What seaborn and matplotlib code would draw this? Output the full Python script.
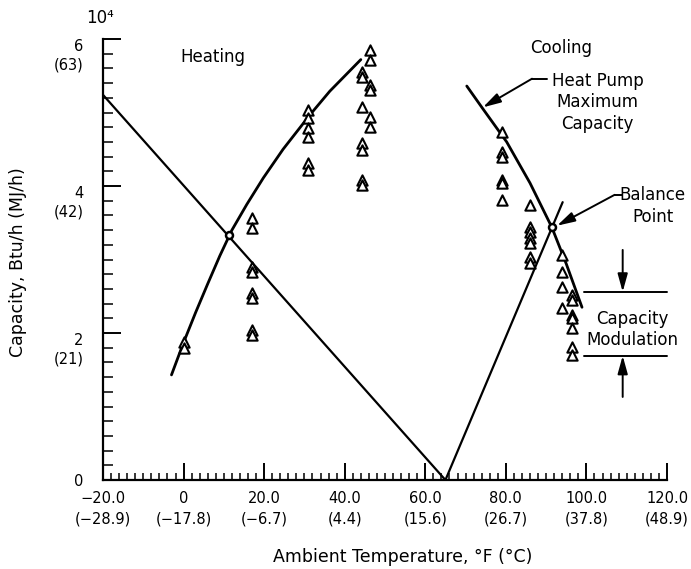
import numpy as np
import matplotlib
matplotlib.use("Agg")
import matplotlib.pyplot as plt
import seaborn as sns

# measured heat pump capacity points (x = ambient temp F, y = capacity in 10^4 Btu/h)
heat_x = [0, 0,
          17, 17, 17, 17, 17, 17, 17, 17,
          31, 31, 31, 31, 31, 31,
          44.3, 44.3, 44.3, 44.3, 44.3, 44.3, 44.3,
          46.3, 46.3, 46.3, 46.3, 46.3, 46.3]
heat_y = [1.88, 1.80,
          3.56, 3.43, 2.90, 2.83, 2.54, 2.48, 2.04, 1.97,
          5.03, 4.93, 4.79, 4.67, 4.31, 4.22,
          5.55, 5.48, 5.07, 4.58, 4.49, 4.08, 4.01,
          5.85, 5.71, 5.37, 5.31, 4.94, 4.80]
cool_x = [79, 79, 79, 79, 79, 79,
          86, 86, 86, 86, 86, 86, 86,
          94, 94, 94, 94,
          96.4, 96.4, 96.4, 96.4, 96.4, 96.4, 96.4]
cool_y = [4.73, 4.46, 4.40, 4.08, 4.04, 3.81,
          3.74, 3.44, 3.37, 3.29, 3.22, 3.03, 2.95,
          3.06, 2.83, 2.63, 2.34,
          2.52, 2.45, 2.24, 2.20, 2.07, 1.81, 1.70]

# building load lines
heat_load_x = [-20, 65]
heat_load_y = [5.24, 0]
cool_load_x = [65, 94.1]
cool_load_y = [0, 3.78]

# heat pump maximum capacity curves
heat_cap_x = [-3, 0, 3, 6, 9, 12, 15.7, 19.8, 24.7, 31.4, 36.3, 44]
heat_cap_y = [1.43, 1.87, 2.28, 2.67, 3.05, 3.40, 3.75, 4.11, 4.50, 4.97, 5.29, 5.72]
cool_cap_x = [70.3, 74.3, 80.2, 86, 91.4, 95, 98.9]
cool_cap_y = [5.36, 5.05, 4.60, 4.04, 3.44, 2.94, 2.35]

balance_x = [11.3, 91.4]
balance_y = [3.33, 3.44]

xticks = [-20, 0, 20, 40, 60, 80, 100, 120]
xticklabels = ["\u221220.0\n(\u221228.9)", "0\n(\u221217.8)", "20.0\n(\u22126.7)", "40.0\n(4.4)",
               "60.0\n(15.6)", "80.0\n(26.7)", "100.0\n(37.8)", "120.0\n(48.9)"]
yticks = [0, 2, 4, 6]
yticklabels = ["0", "2\n(21)", "4\n(42)", "6\n(63)"]

sns.set_theme(style="ticks")
plt.rcParams['font.family'] = ['DejaVu Sans']
plt.rcParams['text.color'] = 'black'
plt.rcParams['axes.labelcolor'] = 'black'
plt.rcParams['xtick.color'] = 'black'
plt.rcParams['ytick.color'] = 'black'

fig = plt.figure(figsize=(6.91, 5.69), dpi=100)
ax = fig.add_axes([103 / 691, 89 / 569, 564 / 691, 441 / 569])

lw = 1.6
sns.lineplot(x=heat_load_x, y=heat_load_y, ax=ax, color="black", lw=lw, sort=False, estimator=None)
sns.lineplot(x=cool_load_x, y=cool_load_y, ax=ax, color="black", lw=lw, sort=False, estimator=None)
sns.lineplot(x=heat_cap_x, y=heat_cap_y, ax=ax, color="black", lw=2.0, sort=False, estimator=None,
             solid_joinstyle="round")
sns.lineplot(x=cool_cap_x, y=cool_cap_y, ax=ax, color="black", lw=2.0, sort=False, estimator=None,
             solid_joinstyle="round")

sns.scatterplot(x=heat_x + cool_x, y=heat_y + cool_y, ax=ax, marker="^", s=55,
                facecolor="white", edgecolor="black", linewidth=1.5, zorder=5)
ax.plot(balance_x, balance_y, "o", ms=5, mfc="white", mec="black", mew=1.8, zorder=6)

ax.set_xlim(-20, 120)
ax.set_ylim(0, 6)
sns.despine(ax=ax)
for s in ["left", "bottom"]:
    ax.spines[s].set_linewidth(1.6)
    ax.spines[s].set_color("black")

ax.set_xticks(xticks)
ax.set_xticklabels(xticklabels, fontsize=10.5, linespacing=1.45)
ax.set_xticks(np.arange(-20, 121, 2), minor=True)
ax.set_yticks(yticks)
ax.set_yticklabels(yticklabels, fontsize=10.5, linespacing=1.3)
ax.set_yticks(np.arange(0, 6.01, 0.2), minor=True)
ax.tick_params(axis="x", which="major", direction="in", length=12, width=1.4, pad=8)
ax.tick_params(axis="x", which="minor", direction="in", length=5, width=1.1)
ax.tick_params(axis="y", which="major", direction="in", length=13, width=1.4, pad=14)
ax.tick_params(axis="y", which="minor", direction="in", length=7, width=1.1)
for lab in ax.get_yticklabels():
    if lab.get_text() != "0":
        lab.set_va("top")

ax.set_xlabel("Ambient Temperature, \u00b0F (\u00b0C)", fontsize=12.5)
ax.xaxis.set_label_coords(0.532, -0.155)
ax.set_ylabel("Capacity, Btu/h (MJ/h)", fontsize=12.5)
ax.yaxis.set_label_coords(-0.135, 0.494)

ax.text(-20.7, 6.29, "10\u2074", fontsize=12, ha="center", va="center")
ax.text(-0.9, 5.76, "Heating", fontsize=12, ha="left", va="center")
ax.text(93.6, 5.88, "Cooling", fontsize=12, ha="center", va="center")
ax.text(102.8, 5.14, "Heat Pump\nMaximum\nCapacity", fontsize=12, ha="center", va="center",
        linespacing=1.25)
ax.text(116.5, 3.73, "Balance\nPoint", fontsize=12, ha="center", va="center", linespacing=1.25)
ax.text(111.3, 2.05, "Capacity\nModulation", fontsize=12, ha="center", va="center",
        linespacing=1.25)

arrow = dict(arrowstyle="-|>,head_length=0.9,head_width=0.25", color="black", lw=1.4,
             shrinkA=0, shrinkB=0)
ax.plot([90.2, 86.5], [5.46, 5.46], color="black", lw=1.4, clip_on=False)
ax.annotate("", xy=(74.3, 5.07), xytext=(86.5, 5.46), arrowprops=arrow, annotation_clip=False)
ax.plot([108.8, 107.0], [3.88, 3.88], color="black", lw=1.4, clip_on=False)
ax.annotate("", xy=(92.7, 3.46), xytext=(107.0, 3.88), arrowprops=arrow, annotation_clip=False)

ax.plot([99.4, 120], [2.56, 2.56], color="black", lw=1.4, clip_on=False)
ax.plot([99.4, 120], [1.69, 1.69], color="black", lw=1.4, clip_on=False)
ax.annotate("", xy=(109, 2.56), xytext=(109, 3.13), arrowprops=arrow, annotation_clip=False)
ax.annotate("", xy=(109, 1.69), xytext=(109, 1.13), arrowprops=arrow, annotation_clip=False)

fig.savefig("out.png", dpi=100, facecolor="white")
